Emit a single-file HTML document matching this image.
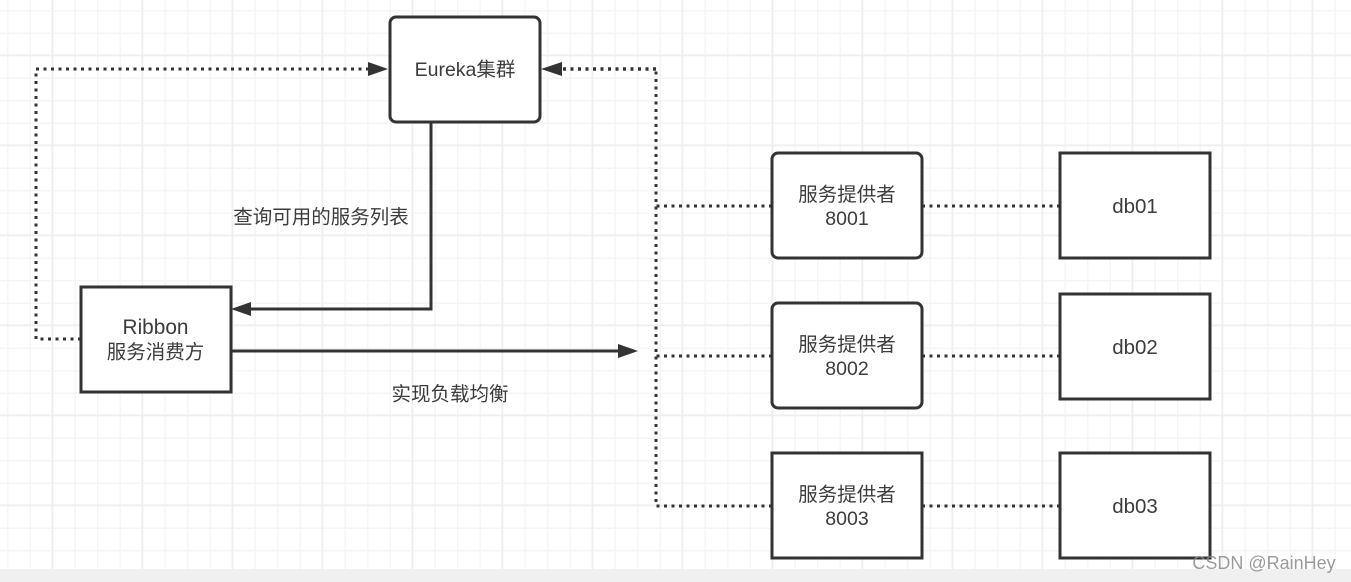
<!DOCTYPE html>
<html>
<head>
<meta charset="utf-8">
<style>
html,body{margin:0;padding:0;background:#fff;}
body{width:1351px;height:582px;overflow:hidden;}
svg{display:block;}
text{font-family:"Liberation Sans","Noto Sans CJK SC",sans-serif;font-size:19.5px;fill:#3c3c3c;text-anchor:middle;}
.box{fill:#fff;stroke:#333;stroke-width:3;}
.dot{fill:none;stroke:#333;stroke-width:2.6;stroke-dasharray:2.6 4.9;}
.dot1{fill:none;stroke:#333;stroke-width:3;stroke-dasharray:3 4.5;}
.dot2{fill:none;stroke:#333;stroke-width:3.4;stroke-dasharray:3 4.5;}
.sol{fill:none;stroke:#333;stroke-width:3;}
</style>
</head>
<body>
<svg width="1351" height="582" viewBox="0 0 1351 582" xmlns="http://www.w3.org/2000/svg">
<defs>
<pattern id="gm" width="22.5" height="22.5" patternUnits="userSpaceOnUse" x="7" y="10">
<path d="M0.75 0V22.5M0 0.75H22.5" stroke="#f5f5f5" stroke-width="1.5" fill="none"/>
</pattern>
<pattern id="gM" width="90" height="90" patternUnits="userSpaceOnUse" x="51.5" y="54.5">
<path d="M0.75 0V90M0 0.75H90" stroke="#eeeeee" stroke-width="1.5" fill="none"/>
</pattern>
</defs>
<rect width="1351" height="582" fill="#fff"/>
<rect width="1351" height="582" fill="url(#gm)"/>
<rect width="1351" height="582" fill="url(#gM)"/>
<rect x="0" y="569" width="1351" height="13" fill="#f0f0f0"/>

<path class="dot1" d="M81 339H36V69H370"/>
<path class="dot1" d="M772 506H656V69"/>
<path class="dot2" d="M656 69H558"/>
<path class="dot1" d="M772 206H656"/>
<path class="dot1" d="M772 356H656"/>
<path class="dot1" d="M922 206H1060"/>
<path class="dot1" d="M922 356H1060"/>
<path class="dot1" d="M922 506H1060"/>
<path class="sol" d="M431 122V309H248"/>
<path class="sol" d="M231 351H622"/>

<polygon points="388,69 368,62 368,76" fill="#333"/>
<polygon points="541,69 562,62 562,76" fill="#333"/>
<polygon points="231,309 251,302 251,316" fill="#333"/>
<polygon points="638,351 618,344 618,358" fill="#333"/>

<rect class="box" x="390" y="17" width="150" height="105" rx="6"/>
<rect class="box" x="81" y="287" width="150" height="105"/>
<rect class="box" x="772" y="153" width="150" height="105" rx="6"/>
<rect class="box" x="772" y="303" width="150" height="105" rx="6"/>
<rect class="box" x="772" y="453" width="150" height="105"/>
<rect class="box" x="1060" y="153" width="150" height="105"/>
<rect class="box" x="1060" y="294" width="150" height="105"/>
<rect class="box" x="1060" y="453" width="150" height="105"/>

<text x="465" y="76">Eureka集群</text>
<text x="155.500" y="334" style="font-size:20.8px">Ribbon</text>
<text x="155.500" y="358.500">服务消费方</text>
<text x="847" y="201">服务提供者</text>
<text x="847" y="225">8001</text>
<text x="847" y="351">服务提供者</text>
<text x="847" y="375">8002</text>
<text x="847" y="501">服务提供者</text>
<text x="847" y="525">8003</text>
<text x="1135" y="213" style="font-size:20.500px">db01</text>
<text x="1135" y="354" style="font-size:20.500px">db02</text>
<text x="1135" y="513" style="font-size:20.500px">db03</text>
<text x="321" y="223.500">查询可用的服务列表</text>
<text x="450" y="400.500">实现负载均衡</text>
<text x="1264" y="569" style="font-size:18px;fill:#8a8a8a;fill-opacity:.85">CSDN @RainHey</text>
</svg>
</body>
</html>
